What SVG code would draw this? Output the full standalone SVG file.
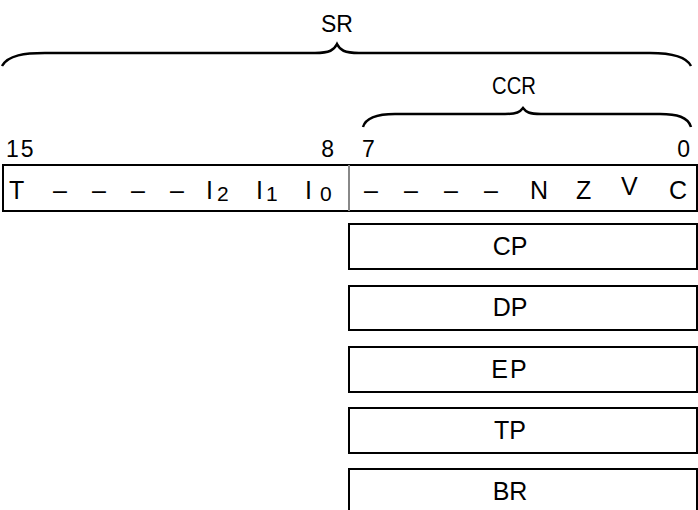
<svg xmlns="http://www.w3.org/2000/svg" width="698" height="510" viewBox="0 0 698 510">
  <style>
    text { font-family: "Liberation Sans", Arial, sans-serif; fill: #000; }
    .lbl { font-size: 23px; text-anchor: middle; }
    .bit { font-size: 23px; letter-spacing: 2px; }
    .fld { font-size: 25px; }
    .sub { font-size: 21px; }
    .reg { font-size: 25px; text-anchor: middle; }
    .box { fill: #fff; stroke: #000; stroke-width: 2; }
    .brace { fill: none; stroke: #000; stroke-width: 2.5; }
  </style>
  <rect width="698" height="510" fill="#fff"/>

  <!-- braces over the status register and the condition code byte -->
  <g id="braces">
    <path class="brace" d="M2,66 C8,55 25,53 45,53 L315,53 C330,53 334,50 337,44 C340,50 344,53 359,53 L650,53 C670,53 686,56 691,66"/>
    <path class="brace" d="M363,127 C366,117 378,114 395,114 L505,114 C517,114 520,112 523,108 C526,112 529,114 541,114 L660,114 C677,114 688,117 691,127"/>
    <text class="lbl" x="337" y="32">SR</text>
    <text class="lbl" transform="translate(514,94) scale(0.88,1)">CCR</text>
  </g>

  <!-- bit numbers -->
  <g id="bitnums">
    <text class="bit" x="6" y="157">15</text>
    <text class="bit" x="336" y="157" text-anchor="end">8</text>
    <text class="bit" x="362" y="157">7</text>
    <text class="bit" x="692" y="157" text-anchor="end">0</text>
  </g>

  <!-- status register fields -->
  <g id="sr">
    <rect class="box" x="3" y="165" width="694" height="46"/>
    <line x1="349" y1="165" x2="349" y2="211" stroke="#888" stroke-width="2"/>
    <text class="fld" x="9" y="199">T</text>
    <text class="fld" x="53" y="199">–</text>
    <text class="fld" x="92" y="199">–</text>
    <text class="fld" x="131" y="199">–</text>
    <text class="fld" x="170" y="199">–</text>
    <text class="fld" x="206" y="199">I<tspan class="sub" dx="4" dy="2">2</tspan></text>
    <text class="fld" x="256" y="199">I<tspan class="sub" dx="3" dy="2">1</tspan></text>
    <text class="fld" x="305" y="199">I<tspan class="sub" dx="8" dy="2">0</tspan></text>
    <text class="fld" x="364" y="199">–</text>
    <text class="fld" x="404" y="199">–</text>
    <text class="fld" x="444" y="199">–</text>
    <text class="fld" x="484" y="199">–</text>
    <text class="fld" x="530" y="199">N</text>
    <text class="fld" x="576" y="199">Z</text>
    <text class="fld" x="621" y="195">V</text>
    <text class="fld" x="669" y="199">C</text>
  </g>

  <g id="cp">
    <rect class="box" x="349" y="224" width="348" height="45"/>
    <text class="reg" x="510" y="255">CP</text>
  </g>
  <g id="dp">
    <rect class="box" x="349" y="286" width="348" height="44"/>
    <text class="reg" x="510" y="316">DP</text>
  </g>
  <g id="ep">
    <rect class="box" x="349" y="347" width="348" height="45"/>
    <text class="reg" x="510" y="378" letter-spacing="2">EP</text>
  </g>
  <g id="tp">
    <rect class="box" x="349" y="408" width="348" height="45"/>
    <text class="reg" x="510" y="439">TP</text>
  </g>
  <g id="br">
    <rect class="box" x="349" y="469" width="348" height="50"/>
    <text class="reg" x="510" y="500">BR</text>
  </g>
</svg>
